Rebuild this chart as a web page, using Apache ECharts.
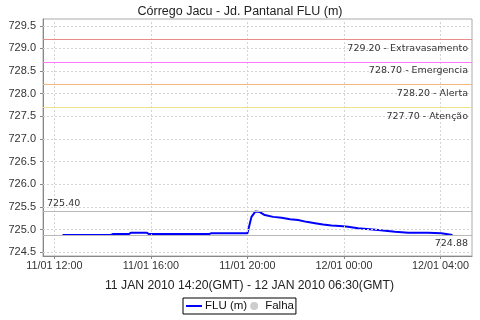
<!DOCTYPE html>
<html>
<head>
<meta charset="utf-8">
<script src="https://cdn.jsdelivr.net/npm/echarts@6/dist/echarts.min.js"></script>
<style>html,body{margin:0;padding:0;background:#fff}#c{width:480px;height:320px}</style>
</head>
<body>
<div id="c"></div>
<script>
// ---- data (local time, dd/MM) ----
var times = [
  "2010-01-11 12:20","2010-01-11 14:20","2010-01-11 14:25","2010-01-11 15:05","2010-01-11 15:10",
  "2010-01-11 15:50","2010-01-11 15:55","2010-01-11 18:25","2010-01-11 18:30","2010-01-11 20:00",
  "2010-01-11 20:10","2010-01-11 20:20","2010-01-11 20:30","2010-01-11 20:43","2010-01-11 21:04",
  "2010-01-11 21:25","2010-01-11 21:46","2010-01-11 22:06","2010-01-11 22:27","2010-01-11 22:48",
  "2010-01-11 23:08","2010-01-11 23:29","2010-01-11 23:50","2010-01-12 00:10","2010-01-12 00:35",
  "2010-01-12 01:25","2010-01-12 02:07","2010-01-12 02:40","2010-01-12 03:29","2010-01-12 04:02",
  "2010-01-12 04:30"
];
var fluValues = [
  724.88,724.88,724.90,724.90,724.93,
  724.93,724.90,724.90,724.92,724.92,
  725.28,725.40,725.39,725.32,725.28,
  725.26,725.23,725.21,725.17,725.14,
  725.11,725.09,725.08,725.06,725.03,
  724.99,724.95,724.93,724.93,724.92,
  724.88
];
var thresholdValues = [729.2, 728.7, 728.2, 727.7];
var thresholdNames = ["Extravasamento", "Emergencia", "Alerta", "Atenção"];
var thresholdColors = ["#e88c8c", "#ff78ff", "#f2b880", "#efe08c"];
var maxValue = 725.40;
var lastValue = 724.88;
var yTicks = [724.5, 725.0, 725.5, 726.0, 726.5, 727.0, 727.5, 728.0, 728.5, 729.0, 729.5];
var xTicks = ["2010-01-11 12:00","2010-01-11 16:00","2010-01-11 20:00","2010-01-12 00:00","2010-01-12 04:00"];
var xMinStr = "2010-01-11 11:31:30", xMaxStr = "2010-01-12 05:18:30";
var yMin = 724.416, yMax = 729.65;
var titleText = "Córrego Jacu - Jd. Pantanal FLU (m)";
var periodText = "11 JAN 2010 14:20(GMT) - 12 JAN 2010 06:30(GMT)";

function toMs(s) {
  var p = s.split(/[- :]/).map(Number);
  return Date.UTC(p[0], p[1]-1, p[2], p[3], p[4], p[5] || 0);
}
function pad(n){ return (n<10?'0':'')+n; }
function fmtX(v) {
  var d = new Date(v);
  return pad(d.getUTCDate()) + "/" + pad(d.getUTCMonth()+1) + " " + pad(d.getUTCHours()) + ":" + pad(d.getUTCMinutes());
}

var seriesData = times.map(function(t, i){ return [toMs(t), fluValues[i]]; });
var xTickMs = xTicks.map(toMs);

var markLines = thresholdValues.map(function(v, i){
  return {
    yAxis: v,
    lineStyle: { color: thresholdColors[i], type: 'solid', width: 1, opacity: 1 },
    label: { formatter: v.toFixed(2) + " - " + thresholdNames[i], position: 'insideEndBottom', distance: [4, 4] }
  };
});
markLines.push({
  yAxis: maxValue,
  lineStyle: { color: '#b8b8b8', type: 'solid', width: 1 },
  label: { formatter: maxValue.toFixed(2), position: 'insideStartTop', distance: [4, 3] }
});
markLines.push({
  yAxis: lastValue,
  lineStyle: { color: '#b8b8b8', type: 'solid', width: 1 },
  label: { formatter: lastValue.toFixed(2), position: 'insideEndBottom', distance: [4, 4] }
});

var gridLines = yTicks.map(function(v){ return { yAxis: v }; })
  .concat(xTickMs.map(function(v){ return { xAxis: v }; }));

var chart = echarts.init(document.getElementById('c'), null, { renderer: 'canvas' });
chart.setOption({
  animation: false,
  backgroundColor: '#fff',
  textStyle: { fontFamily: 'Liberation Sans' },
  title: [
    { text: titleText, left: 'center', top: 0, textStyle: { fontSize: 12.5, fontWeight: 'normal', color: '#222', fontFamily: 'Liberation Sans' } },
    { text: periodText, left: 100, top: 275, textStyle: { fontSize: 12.2, fontWeight: 'normal', color: '#222', fontFamily: 'Liberation Sans' } }
  ],
  legend: {
    bottom: 6, left: 183,
    orient: 'horizontal',
    borderColor: '#000', borderWidth: 1, padding: [2, 2, 2, 2],
    itemGap: 3, itemWidth: 16, itemHeight: 8,
    textStyle: { fontSize: 11.5, color: '#111', fontFamily: 'Liberation Sans', padding: [0, 0, 0, -2] },
    data: [
      { name: 'FLU (m)', itemStyle: { opacity: 0 }, lineStyle: { color: '#0000ff', width: 2 } },
      { name: 'Falha', icon: 'circle' }
    ]
  },
  grid: { left: 43, right: 8, top: 19, bottom: 64, show: true, borderColor: '#aaa', borderWidth: 1 },
  xAxis: {
    type: 'value',
    min: toMs(xMinStr), max: toMs(xMaxStr),
    axisLine: { show: true, lineStyle: { color: '#888' } },
    axisTick: { show: true, customValues: xTickMs, length: 3, lineStyle: { color: '#888' } },
    axisLabel: { customValues: xTickMs, formatter: fmtX, fontSize: 10.8, color: '#333', margin: 5, hideOverlap: false },
    splitLine: { show: false }
  },
  yAxis: {
    type: 'value',
    min: yMin, max: yMax,
    axisLine: { show: true, lineStyle: { color: '#888' } },
    axisTick: { show: true, customValues: yTicks, length: 3, lineStyle: { color: '#888' } },
    axisLabel: { customValues: yTicks, formatter: function(v){ return v.toFixed(1); }, fontSize: 11, color: '#333', margin: 7 },
    splitLine: { show: false }
  },
  series: [
    {
      name: 'grid', type: 'line', data: [], silent: true, z: 1,
      markLine: {
        silent: true, symbol: 'none', animation: false, label: { show: false },
        lineStyle: { color: '#d4d4d4', type: [2, 2], width: 1 },
        data: gridLines
      }
    },
    {
      name: 'FLU (m)', type: 'line', data: seriesData, z: 3,
      symbol: 'none', showSymbol: false,
      lineStyle: { color: '#0000ff', width: 2 },
      itemStyle: { color: '#0000ff' },
      markLine: {
        silent: true, symbol: 'none', animation: false,
        label: { color: '#333', fontSize: 9.5, fontFamily: 'DejaVu Sans' },
        data: markLines
      }
    },
    {
      name: 'Falha', type: 'scatter', data: [],
      itemStyle: { color: '#c0c0c0' }
    }
  ]
});
</script>
</body>
</html>
